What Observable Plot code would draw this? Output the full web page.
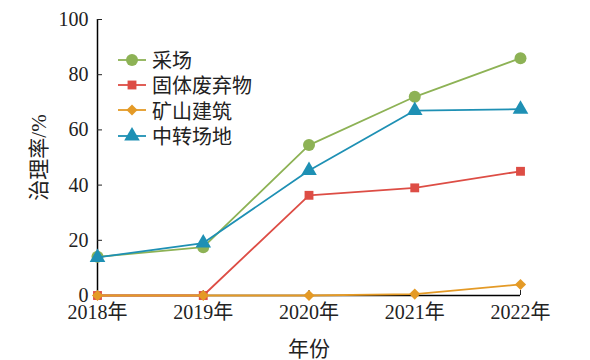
<!DOCTYPE html>
<html>
<head>
<meta charset="utf-8">
<script src="https://cdn.jsdelivr.net/npm/d3@7"></script>
<script src="https://cdn.jsdelivr.net/npm/@observablehq/plot@0.6"></script>
<style>
  html, body { margin: 0; padding: 0; background: #fff; }
  #wrap { position: relative; width: 590px; height: 360px; font-family: 'Liberation Serif', 'Noto Sans CJK SC', serif; }
  #legend { position: absolute; left: 117px; top: 47px; }
  .row { display: flex; align-items: center; height: 25.3px; font-size: 20px; color: #222; }
  .row svg { margin-right: 5px; }
</style>
</head>
<body>
<div id="wrap"><div id="legend"></div></div>
<script>
const years = [2018, 2019, 2020, 2021, 2022];
const seriesNames = ["采场", "固体废弃物", "矿山建筑", "中转场地"];
const caichang = [14, 17.5, 54.5, 72, 86];
const gutiFeiqiwu = [0, 0, 36.3, 39, 45];
const kuangshanJianzhu = [0, 0, 0, 0.5, 4];
const zhongzhuanChangdi = [13.8, 19, 45.3, 67, 67.5];
const yTicks = [0, 20, 40, 60, 80, 100];
const colors = ["#8db255", "#dd4d45", "#e49a26", "#1e90b4"];
const symbols = ["circle", "square", "diamond2", "triangle"];
const sizes = [6, 5, 5, 5.8];
const FONT = "Liberation Serif, Times New Roman, Noto Sans CJK SC, serif";

const seriesValues = [caichang, gutiFeiqiwu, kuangshanJianzhu, zhongzhuanChangdi];
const data = seriesNames.flatMap((name, i) =>
  years.map((yr, j) => ({ series: name, year: yr, value: seriesValues[i][j], idx: i })));

const marks = [
  Plot.ruleY([0], { x1: years[0], x2: years[years.length - 1], stroke: "#000", strokeWidth: 1.5 }),
  Plot.ruleX([years[0]], { y1: yTicks[0], y2: yTicks[yTicks.length - 1], stroke: "#000", strokeWidth: 1.5 }),
  Plot.axisY({ ticks: yTicks, tickSize: -5, tickPadding: 14, fontSize: 20, label: null }),
  Plot.axisY({ ticks: [], label: "治理率/%", labelAnchor: "center", labelArrow: "none", labelOffset: 66, fontSize: 21 }),
  Plot.axisX({ ticks: years, tickSize: -5, tickPadding: 14, fontSize: 20, tickFormat: d => d + "年", label: null }),
  Plot.axisX({ ticks: [], label: "年份", labelAnchor: "center", labelArrow: "none", labelOffset: 60, fontSize: 21 })
];
seriesNames.forEach((name, i) => {
  const d = data.filter(e => e.idx === i);
  marks.push(Plot.line(d, { x: "year", y: "value", stroke: colors[i], strokeWidth: 1.8 }));
  marks.push(Plot.dot(d, { x: "year", y: "value", fill: colors[i], symbol: () => symbols[i], r: sizes[i], stroke: "none" }));
});

const chart = Plot.plot({
  width: 590, height: 360,
  marginLeft: 97, marginRight: 70, marginTop: 19, marginBottom: 65,
  style: { fontSize: "20px", color: "#222", background: "#fff", overflow: "visible" },
  x: { domain: [years[0], years[years.length - 1]] },
  y: { domain: [yTicks[0], yTicks[yTicks.length - 1]] },
  symbol: { type: "identity" },
  marks
});
d3.select(chart).attr("font-family", FONT).style("font-family", FONT);
d3.select(chart).selectAll("g, text, tspan")
  .attr("font-family", FONT).attr("font-variant", null)
  .style("font-family", FONT).style("font-variant", "normal").style("font-variant-numeric", "normal");
document.getElementById("wrap").prepend(chart);

// Legend
const symMap = { circle: d3.symbolCircle, square: d3.symbolSquare, diamond2: d3.symbolDiamond2, triangle: d3.symbolTriangle };
const legend = document.getElementById("legend");
seriesNames.forEach((name, i) => {
  const row = document.createElement("div");
  row.className = "row";
  const sw = d3.create("svg").attr("width", 30).attr("height", 20);
  sw.append("line").attr("x1", 1).attr("x2", 29).attr("y1", 10).attr("y2", 10).attr("stroke", colors[i]).attr("stroke-width", 1.8);
  sw.append("path").attr("transform", "translate(15,10)").attr("fill", colors[i])
    .attr("d", d3.symbol(symMap[symbols[i]], Math.PI * sizes[i] * sizes[i])());
  row.appendChild(sw.node());
  const t = document.createElement("span");
  t.textContent = name;
  row.appendChild(t);
  legend.appendChild(row);
});
</script>
</body>
</html>
